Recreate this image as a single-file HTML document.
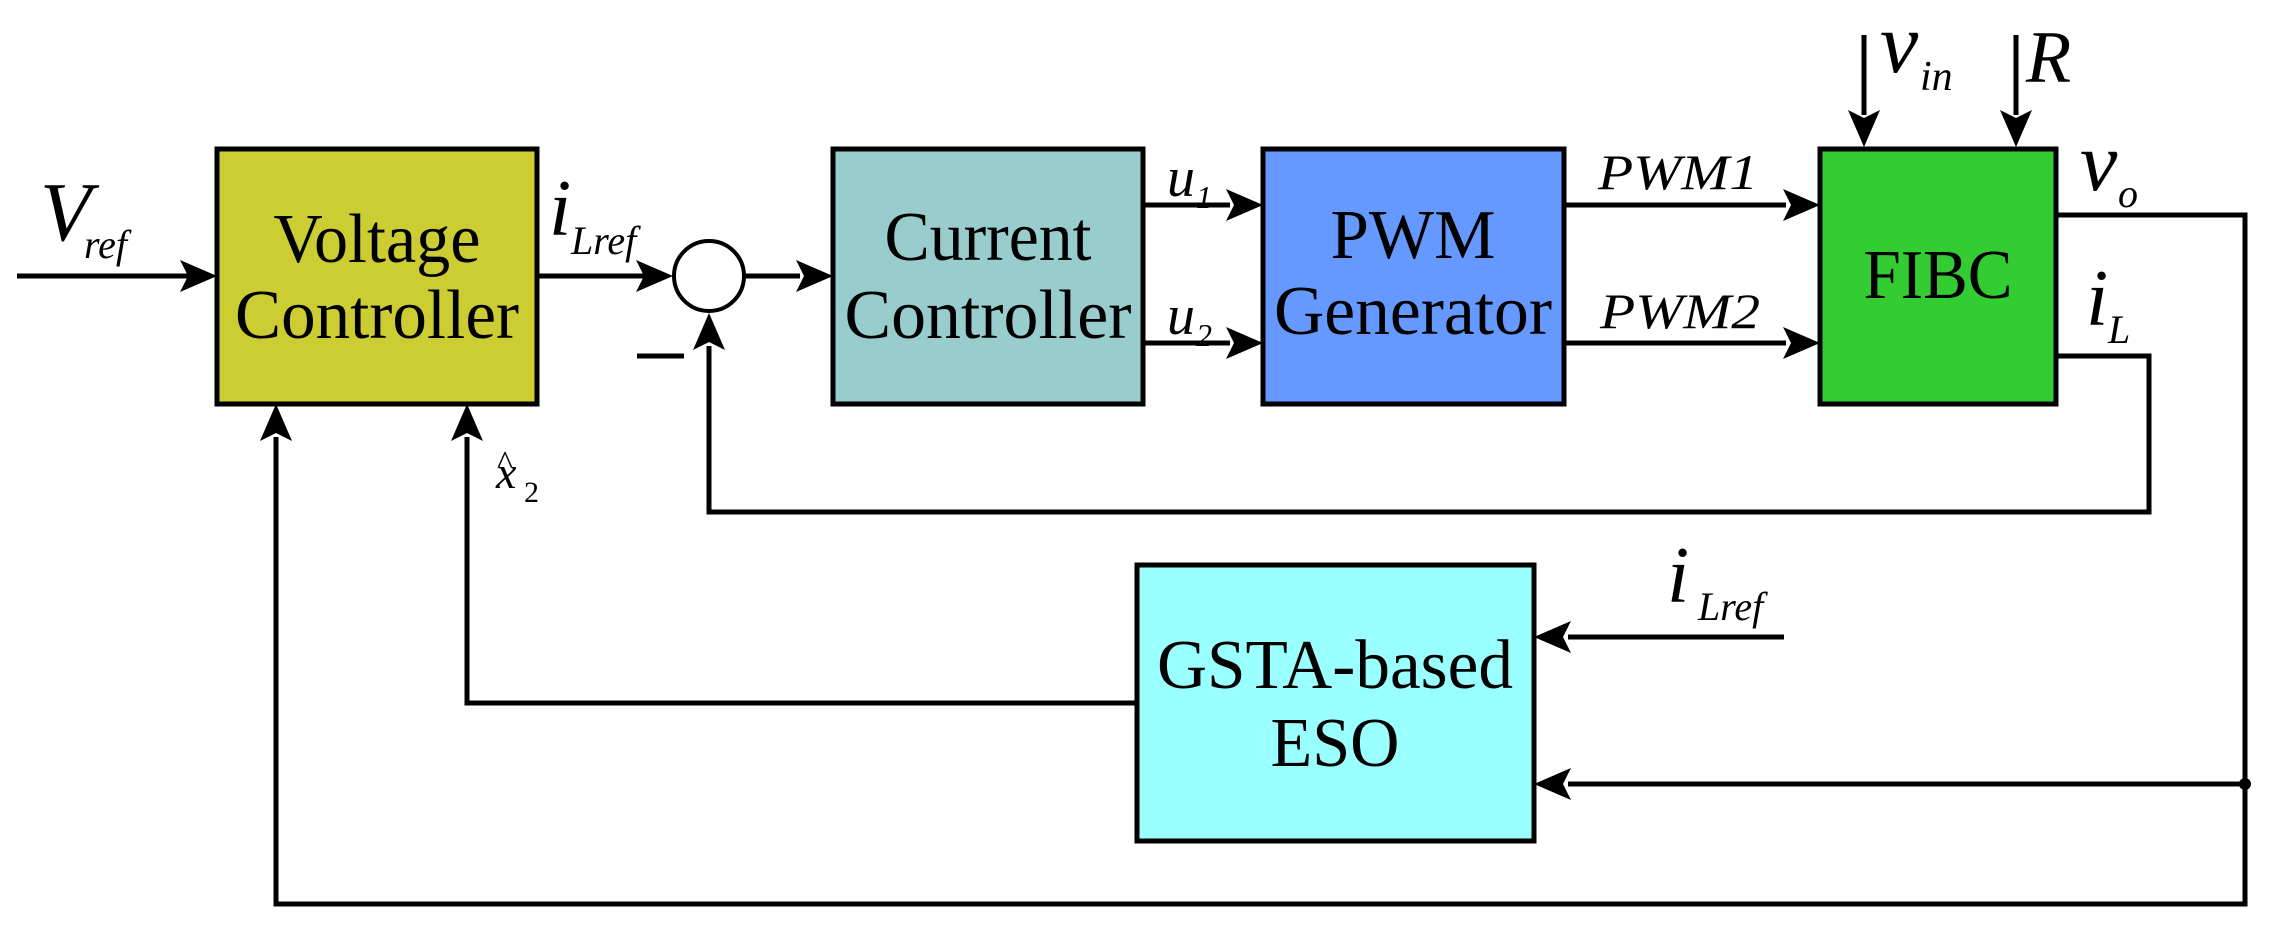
<!DOCTYPE html>
<html><head><meta charset="utf-8"><style>
html,body{margin:0;padding:0;background:#fff;}
svg{display:block}
text{font-family:"Liberation Serif",serif;fill:#000}
.it{font-style:italic}
</style></head><body>
<svg width="2276" height="931" viewBox="0 0 2276 931" xmlns="http://www.w3.org/2000/svg">
<g stroke="#000" stroke-width="5" fill="none">
<rect x="217" y="149" width="320" height="255" fill="#cccc33"/>
<rect x="833" y="149" width="310" height="255" fill="#99cccc"/>
<rect x="1263" y="149" width="301" height="255" fill="#6699ff"/>
<rect x="1820" y="149" width="236" height="255" fill="#33cc33"/>
<rect x="1137" y="565" width="397" height="276" fill="#99ffff"/>
<circle cx="709" cy="276" r="35" stroke-width="4" fill="#fff"/>
<polyline points="17,276 190,276"/>
<polyline points="537,276 645,276"/>
<polyline points="744,276 800,276"/>
<polyline points="1143,205 1230,205"/>
<polyline points="1143,343 1230,343"/>
<polyline points="1564,205 1786,205"/>
<polyline points="1564,343 1786,343"/>
<polyline points="1864,35 1864,115"/>
<polyline points="2016,35 2016,115"/>
<polyline points="2056,215 2245,215 2245,904 276,904 276,437"/>
<polyline points="2056,356 2149,356 2149,512 709,512 709,346"/>
<polyline points="2245,784 1568,784"/>
<polyline points="1784,637 1568,637"/>
<polyline points="1137,703 467,703 467,437"/>
<line x1="637" y1="356" x2="684" y2="356"/>
</g>
<g fill="#000">
<polygon points="217,276 180,260 188,276 180,292"/>
<polygon points="673,276 636,260 644,276 636,292"/>
<polygon points="833,276 796,260 804,276 796,292"/>
<polygon points="1263,205 1226,189 1234,205 1226,221"/>
<polygon points="1263,343 1226,327 1234,343 1226,359"/>
<polygon points="1820,205 1783,189 1791,205 1783,221"/>
<polygon points="1820,343 1783,327 1791,343 1783,359"/>
<polygon points="1864,147 1848,110 1864,118 1880,110"/>
<polygon points="2016,147 2000,110 2016,118 2032,110"/>
<polygon points="1534,637 1571,621 1563,637 1571,653"/>
<polygon points="1534,784 1571,768 1563,784 1571,800"/>
<polygon points="276,404 260,441 276,433 292,441"/>
<polygon points="467,404 451,441 467,433 483,441"/>
<polygon points="709,313 693,350 709,342 725,350"/>
<circle cx="2245" cy="784" r="6"/>
</g>
<g font-size="70" text-anchor="middle" lengthAdjust="spacingAndGlyphs">
<text x="377" y="262" textLength="207" lengthAdjust="spacingAndGlyphs">Voltage</text>
<text x="377" y="338" textLength="284" lengthAdjust="spacingAndGlyphs">Controller</text>
<text x="988" y="260" textLength="207" lengthAdjust="spacingAndGlyphs">Current</text>
<text x="988" y="338" textLength="287" lengthAdjust="spacingAndGlyphs">Controller</text>
<text x="1413" y="258" textLength="165" lengthAdjust="spacingAndGlyphs">PWM</text>
<text x="1413" y="334" textLength="278" lengthAdjust="spacingAndGlyphs">Generator</text>
<text x="1938" y="298" textLength="149" lengthAdjust="spacingAndGlyphs">FIBC</text>
<text x="1335" y="688" textLength="356" lengthAdjust="spacingAndGlyphs">GSTA-based</text>
<text x="1335" y="766" textLength="129" lengthAdjust="spacingAndGlyphs">ESO</text>
</g>
<text class="it" x="40" y="240" font-size="84">V</text>
<text class="it" x="84" y="258" font-size="40">ref</text>
<text class="it" x="549" y="235" font-size="80">i</text>
<text class="it" x="571" y="254" font-size="40">Lref</text>
<text class="it" x="496" y="488" font-size="46">x</text>
<text x="497" y="474" font-size="34">^</text>
<text x="524" y="502" font-size="30">2</text>
<text class="it" x="1167" y="196" font-size="56">u</text>
<text class="it" x="1196" y="208" font-size="32">1</text>
<text class="it" x="1167" y="334" font-size="56">u</text>
<text class="it" x="1196" y="346" font-size="32">2</text>
<text class="it" x="1598" y="189" font-size="50" textLength="160" lengthAdjust="spacingAndGlyphs">PWM1</text>
<text class="it" x="1600" y="328" font-size="50" textLength="160" lengthAdjust="spacingAndGlyphs">PWM2</text>
<text class="it" x="1880" y="72" font-size="86">v</text>
<text class="it" x="1920" y="90" font-size="42">in</text>
<text class="it" x="2026" y="82" font-size="74">R</text>
<text class="it" x="2080" y="190" font-size="84">v</text>
<text class="it" x="2118" y="207" font-size="40">o</text>
<text class="it" x="2086" y="325" font-size="80">i</text>
<text class="it" x="2108" y="343" font-size="40">L</text>
<text class="it" x="1667" y="602" font-size="80">i</text>
<text class="it" x="1698" y="620" font-size="40">Lref</text>
</svg>
</body></html>
